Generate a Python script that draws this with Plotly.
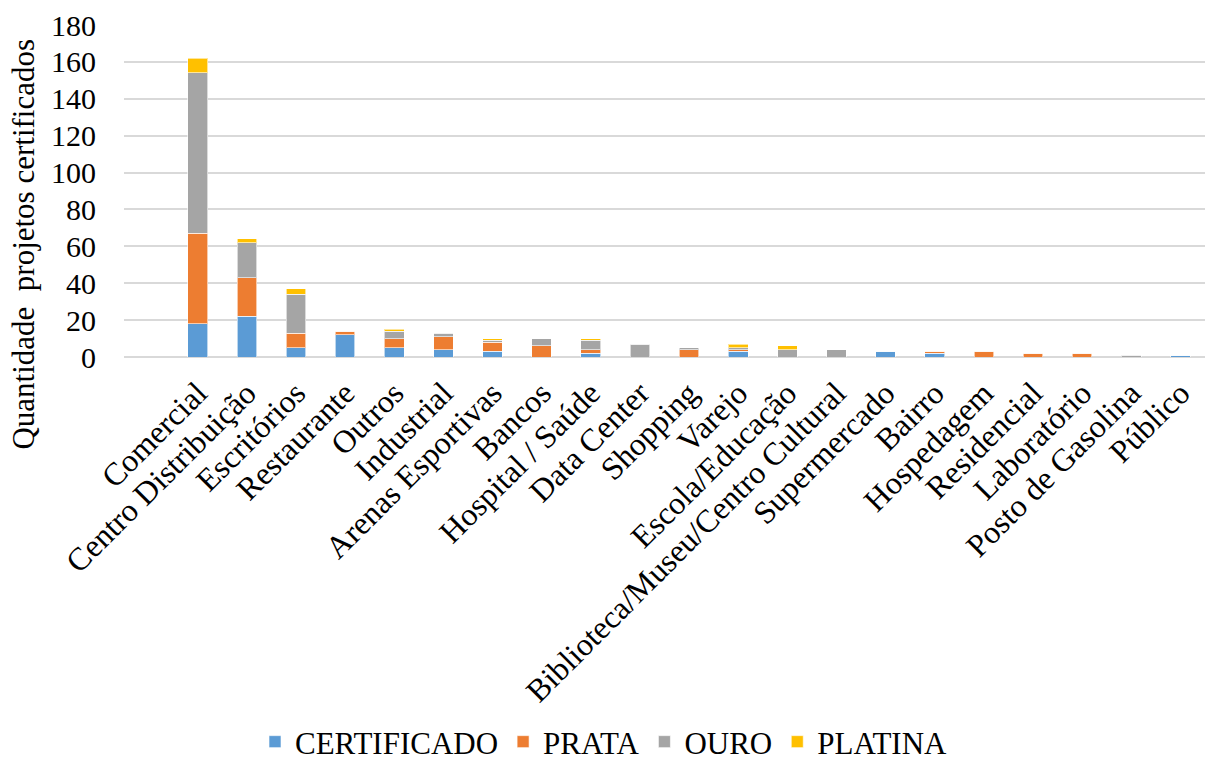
import plotly.graph_objects as go

categories = ["Comercial", "Centro Distribuição", "Escritórios", "Restaurante", "Outros",
              "Industrial", "Arenas Esportivas", "Bancos", "Hospital / Saúde", "Data Center",
              "Shopping", "Varejo", "Escola/Educação", "Biblioteca/Museu/Centro Cultural",
              "Supermercado", "Bairro", "Hospedagem", "Residencial", "Laboratório",
              "Posto de Gasolina", "Público"]
certificado = [18, 22, 5, 12, 5, 4, 3, 0, 2, 0, 0, 3, 0, 0, 3, 2, 0, 0, 0, 0, 1]
prata       = [49, 21, 8, 2, 5, 7, 5, 6, 2, 0, 4, 1, 0, 0, 0, 1, 3, 2, 2, 0, 0]
ouro        = [87, 19, 21, 0, 4, 2, 1, 4, 5, 7, 1, 1, 4, 4, 0, 0, 0, 0, 0, 1, 0]
platina     = [8, 2, 3, 0, 1, 0, 1, 0, 1, 0, 0, 2, 2, 0, 0, 0, 0, 0, 0, 0, 0]

series = [("CERTIFICADO", certificado, "#5B9BD5"),
          ("PRATA", prata, "#ED7D31"),
          ("OURO", ouro, "#A5A5A5"),
          ("PLATINA", platina, "#FFC000")]

fig = go.Figure()
for name, vals, color in series:
    fig.add_trace(go.Bar(x=categories, y=vals, name=name,
                         marker=dict(color=color, line=dict(color="rgba(255,255,255,0.6)", width=1))))

font = "Liberation Serif"
fig.update_layout(
    barmode="stack",
    bargap=0.6,
    width=1208, height=769,
    margin=dict(l=124, r=3, t=25, b=412),
    paper_bgcolor="white", plot_bgcolor="white",
    font=dict(family=font, size=30, color="black"),
    legend=dict(orientation="h", x=0.5, xanchor="center", xref="container",
                y=0.0, yanchor="bottom", yref="container",
                font=dict(family=font, size=31, color="black"), traceorder="normal",
                itemwidth=30),
    xaxis=dict(tickangle=-45, tickfont=dict(family=font, size=32), showgrid=False,
               showline=False, ticks="", range=[-1.5, 20.5], ticklabelstandoff=10),
    yaxis=dict(range=[0, 180], dtick=20, showgrid=True, gridcolor="#D9D9D9", gridwidth=1.5,
               zeroline=True, zerolinecolor="#D9D9D9", zerolinewidth=1.5,
               tickfont=dict(family=font, size=30), ticks="", ticklabelstandoff=27),
    annotations=[dict(text="Quantidade  projetos certificados", textangle=-90,
                      xref="paper", yref="paper", x=-0.093, y=0.34,
                      xanchor="center", yanchor="middle", showarrow=False,
                      font=dict(family=font, size=31, color="black"))],
)
fig.write_html("out.html")
